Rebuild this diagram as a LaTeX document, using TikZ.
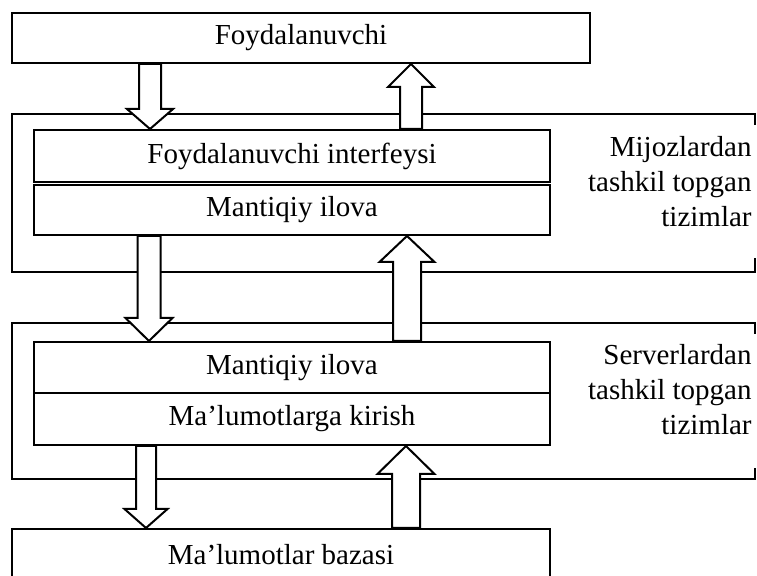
\documentclass[tikz,border=0pt]{standalone}
\usepackage{fontspec}
\setmainfont{Liberation Serif}
\usetikzlibrary{calc}

\newcommand{\blockarrow}[5]{%
  \filldraw[fill=white, line width=1pt] let \p1=#1, \p2=#2, \n1={sign(\y2-\y1)} in
    ({\x1-#3},\y1) -- ({\x1-#3},{\y2-(\n1)*#5}) -- ({\x1-#4},{\y2-(\n1)*#5}) -- (\x1,\y2)
    -- ({\x1+#4},{\y2-(\n1)*#5}) -- ({\x1+#3},{\y2-(\n1)*#5}) -- ({\x1+#3},\y1) -- cycle;}

\begin{document}
\begin{tikzpicture}[x=0.5pt, y=-0.5pt,
     box/.style = {draw, rectangle, line width=1pt, inner sep=0pt,
       font=\fontsize{14.5}{17.5}\selectfont},
     layer/.style = {box, minimum width=258pt},
     frame/.style = {draw, line width=1pt},
     side/.style = {align=right, anchor=east, inner sep=0pt,
       font=\fontsize{14.5}{17.5}\selectfont}
    ]
    \useasboundingbox (0,0) rectangle (757,576);

    \draw[frame] (755,125) -- (755,114) -- (12,114) -- (12,272) -- (755,272) -- (755,258);
    \draw[frame] (755,334) -- (755,323) -- (12,323) -- (12,479) -- (755,479) -- (755,468);

    \node [box, minimum width=289pt, minimum height=25pt] (user) at (301,38) {Foydalanuvchi};
    \node [layer, minimum height=26pt] (ui) at (292,156) {Foydalanuvchi interfeysi};
    \node [layer, minimum height=25pt] (capp) at (292,210) {Mantiqiy ilova};
    \node [layer, minimum height=25.5pt] (sapp) at (292,367.5) {Mantiqiy ilova};
    \node [layer, minimum height=26pt] (access) at (292,419) {Ma’lumotlarga kirish};
    \node [box, minimum width=269pt, minimum height=25.5pt] (db) at (281,554.5) {Ma’lumotlar bazasi};

    \node [side] (clientlbl) at (752,182) {Mijozlardan\\tashkil topgan\\tizimlar};
    \node [side] (serverlbl) at (752,390) {Serverlardan\\tashkil topgan\\tizimlar};

    \blockarrow{($(user.south west)+(139,0)$)}{(ui.north)}{5.5pt}{11.5pt}{10pt}
    \blockarrow{($(ui.north west)+(378,0)$)}{(user.south)}{5.5pt}{11.5pt}{11.5pt}
    \blockarrow{($(capp.south west)+(116,0)$)}{(sapp.north)}{5.75pt}{11.75pt}{11.5pt}
    \blockarrow{($(sapp.north west)+(374,0)$)}{(capp.south)}{7pt}{13.75pt}{13pt}
    \blockarrow{($(access.south west)+(113,0)$)}{(db.north)}{5pt}{10.75pt}{9.5pt}
    \blockarrow{($(db.north west)+(395,0)$)}{(access.south)}{7pt}{14.25pt}{14pt}

\end{tikzpicture}
\end{document}
